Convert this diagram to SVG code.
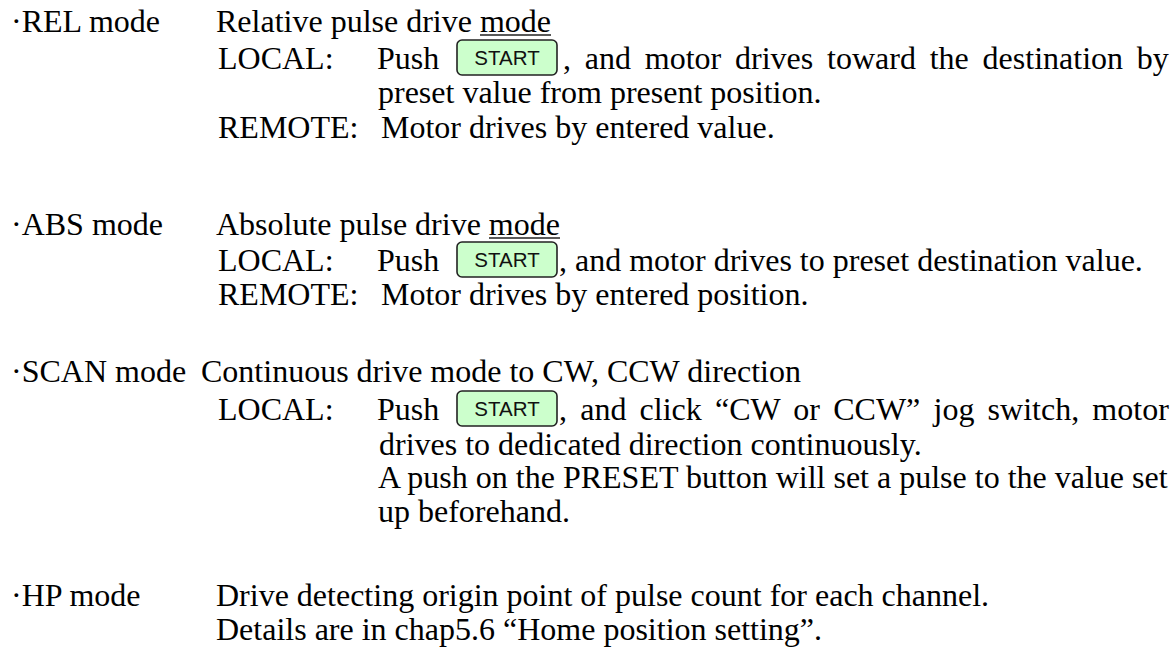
<svg xmlns="http://www.w3.org/2000/svg" width="1174" height="650" viewBox="0 0 1174 650">
<style>
  .t { font-family: "Liberation Serif", "Times New Roman", serif; font-size: 32px; fill: #000; }
  .key { fill: #ccffcc; stroke: #222; stroke-width: 1.6; }
  .kt { font-family: "Liberation Sans", Arial, sans-serif; font-size: 20.5px; fill: #111; text-anchor: middle; }
  .ul { stroke: #222; stroke-width: 1.3; }
</style>
<rect width="1174" height="650" fill="#fff"/>

<g id="rel">
  <text class="t" x="11" y="32">·REL mode</text>
  <text class="t" x="216" y="32">Relative pulse drive mode</text>
  <line class="ul" x1="480" y1="35" x2="551" y2="35"/>
  <text class="t" x="218" y="69">LOCAL:</text>
  <text class="t" x="377" y="69">Push</text>
  <g id="rel-start"><rect class="key" x="457" y="40" width="100" height="35" rx="5"/><text class="kt" x="507" y="65">START</text></g>
  <text class="t" x="563" y="69" word-spacing="5.8">, and motor drives toward the destination by</text>
  <text class="t" x="378" y="103">preset value from present position.</text>
  <text class="t" x="218" y="138">REMOTE:</text>
  <text class="t" x="381" y="138">Motor drives by entered value.</text>
</g>

<g id="abs">
  <text class="t" x="11" y="235">·ABS mode</text>
  <text class="t" x="216" y="235">Absolute pulse drive mode</text>
  <line class="ul" x1="489" y1="238" x2="560" y2="238"/>
  <text class="t" x="218" y="271">LOCAL:</text>
  <text class="t" x="377" y="271">Push</text>
  <g id="abs-start"><rect class="key" x="457" y="242" width="100" height="35" rx="5"/><text class="kt" x="507" y="267">START</text></g>
  <text class="t" x="559" y="271">, and motor drives to preset destination value.</text>
  <text class="t" x="218" y="305">REMOTE:</text>
  <text class="t" x="381" y="305">Motor drives by entered position.</text>
</g>

<g id="scan">
  <text class="t" x="11" y="382">·SCAN mode</text>
  <text class="t" x="201" y="382">Continuous drive mode to CW, CCW direction</text>
  <text class="t" x="218" y="420">LOCAL:</text>
  <text class="t" x="377" y="420">Push</text>
  <g id="scan-start"><rect class="key" x="457" y="391" width="100" height="35" rx="5"/><text class="kt" x="507" y="416">START</text></g>
  <text class="t" x="559" y="420" word-spacing="5.2">, and click “CW or CCW” jog switch, motor</text>
  <text class="t" x="379" y="455">drives to dedicated direction continuously.</text>
  <text class="t" x="378" y="488">A push on the PRESET button will set a pulse to the value set</text>
  <text class="t" x="378" y="522">up beforehand.</text>
</g>

<g id="hp">
  <text class="t" x="11" y="606">·HP mode</text>
  <text class="t" x="216" y="606">Drive detecting origin point of pulse count for each channel.</text>
  <text class="t" x="216" y="640">Details are in chap5.6 “Home position setting”.</text>
</g>

<g id="connectors"/>
</svg>
